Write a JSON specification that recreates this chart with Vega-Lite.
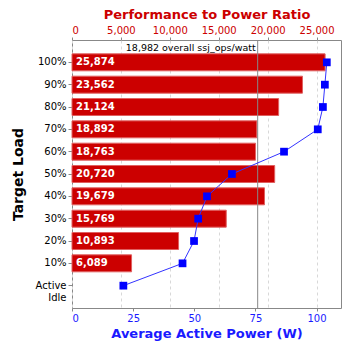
{
  "$schema": "https://vega.github.io/schema/vega-lite/v6.json",
  "width": 269,
  "height": 268,
  "autosize": "none",
  "padding": {"left": 72, "top": 40, "right": 7, "bottom": 40},
  "config": {
    "font": "DejaVu Sans",
    "view": {"stroke": "#888888", "strokeWidth": 1}
  },
  "datasets": {
    "loads": [
      {"load": "100%", "ratio": 25874, "power": 104.2},
      {"load": "90%", "ratio": 23562, "power": 103.4},
      {"load": "80%", "ratio": 21124, "power": 102.6},
      {"load": "70%", "ratio": 18892, "power": 100.5},
      {"load": "60%", "ratio": 18763, "power": 86.7},
      {"load": "50%", "ratio": 20720, "power": 65.4},
      {"load": "40%", "ratio": 19679, "power": 55.2},
      {"load": "30%", "ratio": 15769, "power": 51.6},
      {"load": "20%", "ratio": 10893, "power": 49.9},
      {"load": "10%", "ratio": 6089, "power": 45.2},
      {"load": "Active Idle", "ratio": null, "power": 21.0}
    ],
    "overall": [
      {"ratio": 18982, "label": "18,982 overall ssj_ops/watt"}
    ]
  },
  "encoding": {
    "y": {
      "field": "load",
      "type": "nominal",
      "scale": {
        "domain": ["100%", "90%", "80%", "70%", "60%", "50%", "40%", "30%", "20%", "10%", "Active Idle"],
        "paddingInner": 0.24,
        "paddingOuter": 0.62
      },
      "axis": {
        "title": "Target Load",
        "titleFontSize": 14,
        "titleFontWeight": "bold",
        "titleColor": "#000000",
        "titlePadding": 10,
        "labelColor": "#000000",
        "labelFontSize": 10,
        "labelPadding": 2,
        "tickSize": 4,
        "tickColor": "#888888",
        "domain": false,
        "labelExpr": "datum.label == 'Active Idle' ? ['Active', 'Idle'] : datum.label"
      }
    }
  },
  "layer": [
    {
      "layer": [
        {
          "data": {"name": "loads"},
          "mark": {"type": "bar", "color": "#cc0000", "stroke": "#e06060", "strokeWidth": 1},
          "encoding": {
            "x": {
              "field": "ratio",
              "type": "quantitative",
              "scale": {"domain": [0, 27500], "nice": false},
              "axis": {
                "orient": "top",
                "title": "Performance to Power Ratio",
                "titleColor": "#cc0000",
                "titleFontSize": 13,
                "titleFontWeight": "bold",
                "titlePadding": 4,
                "labelColor": "#cc0000",
                "labelFontSize": 10,
                "format": ",d",
                "values": [0, 5000, 10000, 15000, 20000, 25000],
                "grid": true,
                "gridDash": [3, 3],
                "gridColor": "#d8d8d8",
                "tickSize": 3,
                "tickColor": "#888888",
                "domain": false
              }
            }
          }
        },
        {
          "data": {"name": "loads"},
          "mark": {"type": "text", "align": "left", "baseline": "middle", "dx": 4, "color": "#ffffff", "fontWeight": "bold", "fontSize": 10},
          "encoding": {
            "x": {"datum": 0, "type": "quantitative"},
            "text": {"field": "ratio", "type": "quantitative", "format": ",d"}
          },
          "transform": [{"filter": "datum.ratio != null"}]
        },
        {
          "data": {"name": "overall"},
          "mark": {"type": "rule", "color": "#888888", "strokeWidth": 1},
          "encoding": {
            "x": {"field": "ratio", "type": "quantitative"},
            "y": null
          }
        },
        {
          "data": {"name": "overall"},
          "mark": {"type": "text", "align": "right", "baseline": "bottom", "dx": -2, "dy": -1, "fontSize": 9.5, "color": "#000000"},
          "encoding": {
            "x": {"field": "ratio", "type": "quantitative"},
            "y": {"datum": "100%", "type": "nominal", "bandPosition": 0},
            "text": {"field": "label"}
          }
        }
      ]
    },
    {
      "data": {"name": "loads"},
      "layer": [
        {
          "mark": {"type": "line", "color": "#3333ff", "strokeWidth": 1}
        },
        {
          "mark": {"type": "square", "color": "#0000ff", "filled": true, "opacity": 1, "size": 60}
        }
      ],
      "encoding": {
        "x": {
          "field": "power",
          "type": "quantitative",
          "scale": {"domain": [0, 110], "nice": false},
          "axis": {
            "orient": "bottom",
            "title": "Average Active Power (W)",
            "titleColor": "#1a1aff",
            "titleFontSize": 13,
            "titleFontWeight": "bold",
            "titlePadding": 4,
            "labelColor": "#1a1aff",
            "labelFontSize": 10,
            "values": [0, 25, 50, 75, 100],
            "grid": false,
            "tickSize": 3,
            "tickColor": "#888888",
            "domain": false
          }
        }
      }
    }
  ],
  "resolve": {"scale": {"x": "independent"}, "axis": {"x": "independent"}}
}
